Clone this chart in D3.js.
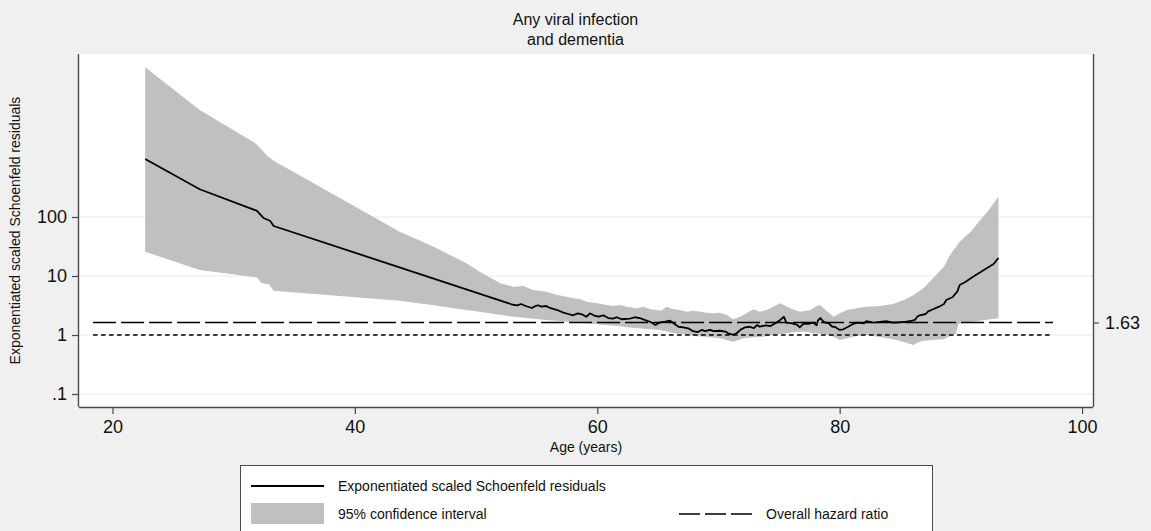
<!DOCTYPE html>
<meta charset="utf-8">
<style>
  body {
    margin: 0;
    background: #f0f0f0;
    font-family: "Liberation Sans", Arial, sans-serif;
  }
  svg { display: block; }
</style>
<body>
  <div id="chart"></div>
  <script src="https://d3js.org/d3.v7.min.js"></script>
  <script>
    const titleLines = ["Any viral infection", "and dementia"];
    const xTicks = [20, 40, 60, 80, 100];
    const yTicks = [100, 10, 1, 0.1];
    const yTickLabels = ["100", "10", "1", ".1"];
    const overallHR = 1.63;
    const nullHR = 1;
    const refAgeRange = [18.4, 97.6];

    // [age, exponentiated scaled Schoenfeld residual]
    const residuals = [
      [22.7, 962], [27.2, 295], [31.9, 128], [32.5, 95.1], [33.0, 86.5], [33.3, 70.4],
      [52.7, 3.45], [53.0, 3.26], [53.4, 3.19], [53.7, 3.35], [54.1, 3.10], [54.6, 2.87],
      [54.9, 3.10], [55.1, 3.19], [55.4, 3.02], [55.8, 3.10], [56.1, 2.87], [56.7, 2.65],
      [57.2, 2.39], [57.6, 2.27], [58.0, 2.16], [58.4, 2.33], [58.8, 2.21], [59.1, 2.04],
      [59.4, 2.33], [59.7, 2.16], [60.1, 2.04], [60.5, 2.16], [60.9, 1.94], [61.3, 1.89],
      [61.6, 2.00], [62.0, 1.85], [62.7, 1.89], [63.1, 2.00], [63.5, 1.94], [63.9, 1.80],
      [64.4, 1.66], [64.8, 1.48], [65.2, 1.64], [65.6, 1.68], [66.0, 1.75], [66.3, 1.58],
      [66.7, 1.38], [67.1, 1.35], [67.5, 1.30], [67.9, 1.16], [68.3, 1.12], [68.6, 1.22],
      [68.9, 1.16], [69.3, 1.22], [69.6, 1.16], [70.1, 1.18], [70.6, 1.14], [70.8, 1.07],
      [71.2, 1.01], [71.5, 1.07], [71.8, 1.22], [72.2, 1.35], [72.6, 1.38], [72.9, 1.30],
      [73.2, 1.48], [73.4, 1.38], [73.9, 1.46], [74.3, 1.42], [74.7, 1.58], [75.1, 1.80],
      [75.4, 2.04], [75.6, 1.62], [76.1, 1.58], [76.5, 1.48], [76.7, 1.35], [77.0, 1.54],
      [77.4, 1.54], [77.8, 1.62], [78.1, 1.46], [78.2, 1.75], [78.4, 1.94], [78.7, 1.66],
      [79.1, 1.58], [79.4, 1.38], [79.6, 1.38], [80.0, 1.22], [80.3, 1.25], [80.7, 1.38],
      [81.1, 1.54], [81.5, 1.62], [82.0, 1.58], [82.2, 1.71], [82.8, 1.62], [83.3, 1.66],
      [83.9, 1.71], [84.4, 1.62], [85.3, 1.66], [86.0, 1.75], [86.2, 1.80], [86.4, 2.04],
      [86.6, 2.16], [87.1, 2.27], [87.3, 2.52], [87.7, 2.73], [88.2, 3.02], [88.6, 3.35],
      [88.8, 3.92], [89.3, 4.36], [89.7, 5.42], [89.9, 7.04], [90.4, 8.01], [91.0, 9.73],
      [91.9, 12.6], [92.7, 16.0], [93.1, 20.2]
    ];

    // 95% CI upper bound [age, value]
    const ciUpper = [
      [22.7, 34400], [27.2, 6510], [31.8, 1775], [32.2, 1460], [32.7, 1124], [33.3, 900],
      [43.7, 56.4], [46.5, 31.4], [49.2, 16.4], [50.3, 11.8], [52.0, 7.52], [53.1, 6.59],
      [53.9, 6.77], [54.7, 5.79], [55.8, 5.42], [56.7, 4.76], [57.5, 4.46], [58.0, 4.19],
      [58.6, 4.03], [59.1, 3.67], [60.0, 3.45], [60.8, 3.22], [61.3, 3.10], [61.9, 3.22],
      [62.4, 3.02], [63.3, 2.84], [63.8, 3.02], [64.4, 2.73], [64.9, 2.65], [65.3, 2.58],
      [65.7, 3.02], [66.3, 2.73], [66.8, 2.65], [67.4, 2.48], [67.9, 2.58], [68.5, 2.48],
      [69.0, 2.39], [69.6, 2.33], [70.1, 2.39], [70.7, 2.18], [71.2, 1.85], [71.8, 2.04],
      [72.3, 2.33], [72.9, 2.73], [73.4, 2.48], [74.0, 2.65], [74.5, 3.02], [75.1, 3.45],
      [75.4, 3.22], [75.9, 2.84], [76.7, 2.48], [77.6, 2.65], [78.1, 3.10], [78.4, 3.22],
      [78.9, 2.58], [79.5, 2.04], [80.0, 2.33], [80.6, 2.65], [81.4, 2.84], [82.2, 3.02],
      [83.3, 3.10], [84.4, 3.35], [85.3, 3.92], [86.1, 4.76], [86.9, 6.19], [87.7, 9.14],
      [88.6, 14.4], [89.1, 22.7], [89.9, 38.1], [90.8, 56.4], [91.6, 89.0], [92.4, 140],
      [93.1, 221]
    ];

    // 95% CI lower bound [age, value]
    const ciLower = [
      [22.7, 25.8], [27.2, 12.6], [31.9, 9.51], [32.3, 7.52], [32.9, 7.23], [33.3, 5.63],
      [43.7, 3.81], [46.5, 3.19], [49.2, 2.65], [50.3, 2.48], [53.1, 2.04], [55.8, 1.80],
      [58.6, 1.62], [61.3, 1.45], [62.7, 1.34], [64.1, 1.26], [65.2, 1.22], [66.3, 1.07],
      [67.1, 1.04], [67.9, 0.962], [69.0, 0.936], [70.1, 0.879], [71.2, 0.770], [72.1, 0.879],
      [72.9, 0.914], [73.7, 0.936], [74.5, 1.00], [75.6, 1.07], [76.5, 1.14], [77.3, 1.14],
      [77.8, 1.07], [78.7, 1.04], [79.5, 0.936], [80.0, 0.822], [80.6, 0.879], [81.4, 0.962],
      [82.2, 1.00], [83.1, 0.936], [83.9, 0.879], [84.7, 0.822], [85.5, 0.740], [86.1, 0.677],
      [86.4, 0.740], [86.9, 0.800], [87.7, 0.822], [88.6, 0.846], [89.4, 1.04], [89.6, 1.04],
      [89.8, 1.54], [90.8, 1.66], [92.0, 1.80], [93.1, 1.92]
    ];

    const W = 1151, H = 531;
    const plot = { left: 79, right: 1093, top: 54, bottom: 407 };

    const svg = d3.select("#chart").append("svg")
      .attr("width", W)
      .attr("height", H);

    const x = d3.scaleLinear().domain([17.24, 100.9]).range([plot.left, plot.right]);
    const y = d3.scaleLog().domain([0.06022, 57890]).range([plot.bottom, plot.top]);

    // plot region
    svg.append("rect")
      .attr("x", plot.left).attr("y", plot.top)
      .attr("width", plot.right - plot.left).attr("height", plot.bottom - plot.top)
      .attr("fill", "#fff");

    // grid
    svg.append("g")
      .selectAll("line")
      .data(yTicks)
      .join("line")
      .attr("x1", plot.left).attr("x2", plot.right)
      .attr("y1", d => y(d)).attr("y2", d => y(d))
      .attr("stroke", "#eaeaea")
      .attr("stroke-width", 1.2);

    // confidence band
    const band = ciUpper.concat(ciLower.slice().reverse());
    svg.append("path")
      .attr("d", d3.line().x(d => x(d[0])).y(d => y(d[1]))(band) + "Z")
      .attr("fill", "#c0c0c0");

    // reference lines
    svg.append("line")
      .attr("x1", x(refAgeRange[0])).attr("x2", x(refAgeRange[1]))
      .attr("y1", y(nullHR)).attr("y2", y(nullHR))
      .attr("stroke", "#000")
      .attr("stroke-width", 1.5)
      .attr("stroke-dasharray", "4.5,3.5");

    svg.append("line")
      .attr("x1", x(refAgeRange[0])).attr("x2", x(refAgeRange[1]))
      .attr("y1", y(overallHR)).attr("y2", y(overallHR))
      .attr("stroke", "#000")
      .attr("stroke-width", 1.5)
      .attr("stroke-dasharray", "23,5");

    // residual line
    svg.append("path")
      .datum(residuals)
      .attr("d", d3.line().x(d => x(d[0])).y(d => y(d[1])))
      .attr("fill", "none")
      .attr("stroke", "#000")
      .attr("stroke-width", 1.8)
      .attr("stroke-linejoin", "round");

    // axes
    const axisColor = "#4a4a4a";

    const xAxis = svg.append("g")
      .attr("transform", `translate(0,${plot.bottom})`)
      .call(d3.axisBottom(x).tickValues(xTicks).tickSize(7).tickPadding(6).tickFormat(d3.format("d")));

    const yAxis = svg.append("g")
      .attr("transform", `translate(${plot.left},0)`)
      .call(d3.axisLeft(y).tickValues(yTicks).tickSize(7).tickPadding(5)
        .tickFormat((d, i) => yTickLabels[i]));

    const rAxis = svg.append("g")
      .attr("transform", `translate(${plot.right},0)`)
      .call(d3.axisRight(y).tickValues([overallHR]).tickSize(6).tickPadding(6)
        .tickFormat(d3.format(".2f")));

    [xAxis, yAxis, rAxis].forEach(g => {
      g.select(".domain").attr("stroke", axisColor).attr("stroke-width", 1.4);
      g.selectAll(".tick line").attr("stroke", axisColor).attr("stroke-width", 1.2);
      g.selectAll(".tick text")
        .attr("fill", "#111")
        .style("font-size", "18px")
        .style("font-family", '"Liberation Sans", Arial, sans-serif');
    });
    // domain paths without outer ticks
    xAxis.select(".domain").attr("d", `M${plot.left},0.5H${plot.right}`);
    yAxis.select(".domain").attr("d", `M-0.5,${plot.top}V${plot.bottom}`);
    rAxis.select(".domain").attr("d", `M0.5,${plot.top}V${plot.bottom}`);

    // titles
    svg.append("g")
      .selectAll("text")
      .data(titleLines)
      .join("text")
      .attr("x", W / 2)
      .attr("y", (d, i) => 25 + i * 20)
      .attr("text-anchor", "middle")
      .style("font-size", "16px")
      .attr("fill", "#111")
      .text(d => d);

    svg.append("text")
      .attr("x", (plot.left + plot.right) / 2)
      .attr("y", 452)
      .attr("text-anchor", "middle")
      .style("font-size", "14px")
      .attr("fill", "#111")
      .text("Age (years)");

    svg.append("text")
      .attr("transform", `translate(20,${(plot.top + plot.bottom) / 2}) rotate(-90)`)
      .attr("text-anchor", "middle")
      .style("font-size", "14px")
      .attr("fill", "#111")
      .text("Exponentiated scaled Schoenfeld residuals");

    // legend
    const lg = svg.append("g");
    lg.append("rect")
      .attr("x", 240.5).attr("y", 465.5)
      .attr("width", 692).attr("height", 80)
      .attr("fill", "#fff")
      .attr("stroke", axisColor)
      .attr("stroke-width", 1);

    lg.append("line")
      .attr("x1", 251).attr("x2", 324).attr("y1", 486).attr("y2", 486)
      .attr("stroke", "#000").attr("stroke-width", 1.8);
    lg.append("text")
      .attr("x", 338).attr("y", 491)
      .style("font-size", "14px").attr("fill", "#111")
      .text("Exponentiated scaled Schoenfeld residuals");

    lg.append("rect")
      .attr("x", 251).attr("y", 503).attr("width", 73).attr("height", 21)
      .attr("fill", "#c0c0c0");
    lg.append("text")
      .attr("x", 338).attr("y", 519)
      .style("font-size", "14px").attr("fill", "#111")
      .text("95% confidence interval");

    lg.append("line")
      .attr("x1", 679).attr("x2", 752).attr("y1", 514).attr("y2", 514)
      .attr("stroke", "#000").attr("stroke-width", 1.5)
      .attr("stroke-dasharray", "21,5");
    lg.append("text")
      .attr("x", 766).attr("y", 519)
      .style("font-size", "14px").attr("fill", "#111")
      .text("Overall hazard ratio");
  </script>
</body>
